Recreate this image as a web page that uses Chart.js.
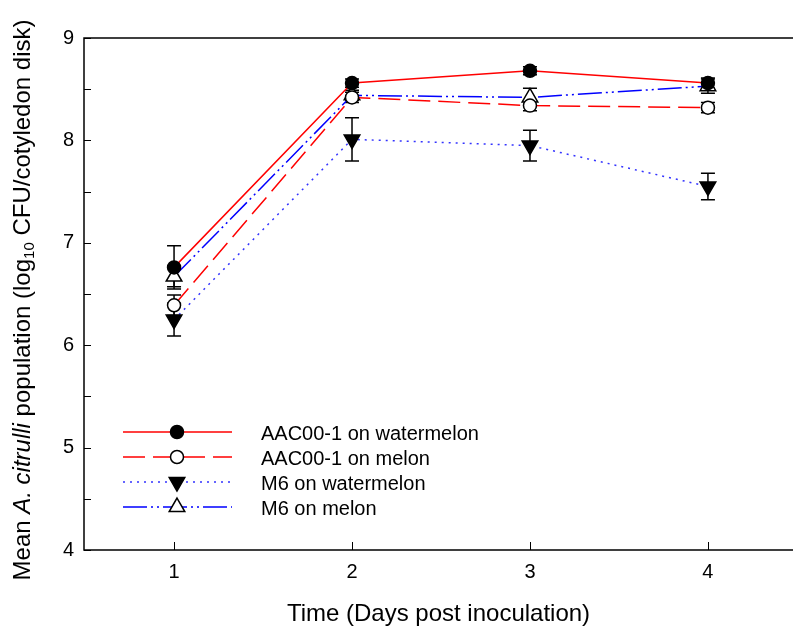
<!DOCTYPE html>
<html><head><meta charset="utf-8">
<script src="https://cdn.jsdelivr.net/npm/chart.js@4"></script>
<style>html,body{margin:0;padding:0;background:#fff}#wrap{width:793px;height:626px}</style>
</head><body><div id="wrap"><canvas id="c" width="793" height="626"></canvas></div>
<script>
const days = [1, 2, 3, 4];
const seriesNames = ["AAC00-1 on watermelon", "AAC00-1 on melon", "M6 on watermelon", "M6 on melon"];
const aacWatermelon = [6.76, 8.56, 8.68, 8.56];
const aacWatermelonErr = [0.21, 0.04, 0.04, 0.05];
const aacMelon = [6.39, 8.42, 8.34, 8.32];
const aacMelonErr = [0.10, 0.05, 0.05, 0.05];
const m6Watermelon = [6.25, 8.01, 7.95, 7.55];
const m6WatermelonErr = [0.16, 0.21, 0.15, 0.13];
const m6Melon = [6.67, 8.44, 8.42, 8.53];
const m6MelonErr = [0.10, 0.05, 0.09, 0.07];
const yTicks = [4, 5, 6, 7, 8, 9];

const FONT = "'Liberation Sans', Arial, sans-serif";

function pts(vals) { return days.map((d, i) => ({x: d, y: vals[i]})); }

const styles = [
  {color: '#ff0000', dash: [], point: 'circle', fill: '#000', r: 6.5, rot: 0},
  {color: '#ff0000', dash: [22, 8], point: 'circle', fill: '#fff', r: 6.5, rot: 0},
  {color: '#3333ff', dash: [2, 5], point: 'triangle', fill: '#000', r: 9, rot: 180},
  {color: '#0000ff', dash: [24, 4, 2, 4, 2, 4], point: 'triangle', fill: '#fff', r: 9, rot: 0}
];
const values = [aacWatermelon, aacMelon, m6Watermelon, m6Melon];
const errors = [aacWatermelonErr, aacMelonErr, m6WatermelonErr, m6MelonErr];

const datasets = values.map((v, i) => ({
  label: seriesNames[i],
  data: pts(v),
  showLine: true,
  borderColor: styles[i].color,
  borderWidth: 1.5,
  borderDash: styles[i].dash,
  pointStyle: styles[i].point,
  pointRadius: styles[i].r,
  pointRotation: styles[i].rot,
  pointBackgroundColor: styles[i].fill,
  pointBorderColor: '#000',
  pointBorderWidth: 1.5,
  tension: 0,
  fill: false
}));

function drawMarker(ctx, st, x, y) {
  ctx.save();
  ctx.fillStyle = st.fill; ctx.strokeStyle = '#000'; ctx.lineWidth = 1.5; ctx.setLineDash([]);
  ctx.beginPath();
  if (st.point === 'circle') {
    ctx.arc(x, y, st.r, 0, Math.PI * 2);
  } else {
    let rad = st.rot * Math.PI / 180;
    for (let k = 0; k < 3; k++) {
      const px = x + Math.sin(rad) * st.r, py = y - Math.cos(rad) * st.r;
      if (k === 0) ctx.moveTo(px, py); else ctx.lineTo(px, py);
      rad += 2 * Math.PI / 3;
    }
    ctx.closePath();
  }
  ctx.fill(); ctx.stroke();
  ctx.restore();
}

const errorBars = {
  id: 'errorBars',
  beforeDatasetsDraw(chart) {
    const {ctx, scales: {x, y}} = chart;
    ctx.save();
    ctx.strokeStyle = '#000'; ctx.lineWidth = 1.5; ctx.setLineDash([]);
    values.forEach((v, i) => {
      v.forEach((val, j) => {
        const px = x.getPixelForValue(days[j]);
        const top = y.getPixelForValue(val + errors[i][j]);
        const bot = y.getPixelForValue(val - errors[i][j]);
        ctx.beginPath();
        ctx.moveTo(px, top); ctx.lineTo(px, bot);
        ctx.moveTo(px - 7, top); ctx.lineTo(px + 7, top);
        ctx.moveTo(px - 7, bot); ctx.lineTo(px + 7, bot);
        ctx.stroke();
      });
    });
    ctx.restore();
  }
};

const frame = {
  id: 'frame',
  afterDraw(chart) {
    const {ctx, chartArea: a, scales: {x, y}} = chart;
    ctx.save();
    ctx.strokeStyle = '#000'; ctx.lineWidth = 1.5; ctx.setLineDash([]);
    ctx.beginPath();
    ctx.moveTo(chart.width, a.top); ctx.lineTo(a.left, a.top);
    ctx.lineTo(a.left, a.bottom); ctx.lineTo(chart.width, a.bottom);
    ctx.stroke();
    ctx.lineWidth = 1;
    ctx.beginPath();
    for (let v = 4; v <= 9.001; v += 0.5) {
      const py = Math.round(y.getPixelForValue(v)) + 0.5;
      ctx.moveTo(a.left, py); ctx.lineTo(a.left + 7, py);
    }
    days.forEach(d => {
      const px = Math.round(x.getPixelForValue(d)) + 0.5;
      ctx.moveTo(px, a.bottom); ctx.lineTo(px, a.bottom - 8);
    });
    ctx.stroke();

    // legend
    const rows = [433, 458, 483, 508];
    ctx.font = '20px ' + FONT;
    ctx.textBaseline = 'middle'; ctx.textAlign = 'left'; ctx.fillStyle = '#000';
    styles.forEach((st, i) => {
      ctx.save();
      ctx.strokeStyle = st.color; ctx.lineWidth = 1.5; ctx.setLineDash(st.dash);
      ctx.beginPath(); ctx.moveTo(123, rows[i] - 1); ctx.lineTo(232, rows[i] - 1); ctx.stroke();
      ctx.restore();
      drawMarker(ctx, st, 177, rows[i] - 1);
      ctx.fillText(seriesNames[i], 261, rows[i] + 1);
    });

    // y title with italic and subscript
    const parts = [
      {t: 'Mean ', f: '24px ' + FONT, dy: 0},
      {t: 'A. citrulli', f: 'italic 24px ' + FONT, dy: 0},
      {t: ' population (log', f: '24px ' + FONT, dy: 0},
      {t: '10', f: '15px ' + FONT, dy: 7},
      {t: ' CFU/cotyledon disk)', f: '24px ' + FONT, dy: 0}
    ];
    let total = 0;
    parts.forEach(p => { ctx.font = p.f; p.w = ctx.measureText(p.t).width; total += p.w; });
    ctx.translate(23, 300);
    ctx.rotate(-Math.PI / 2);
    let cx = -total / 2;
    parts.forEach(p => { ctx.font = p.f; ctx.fillText(p.t, cx, p.dy); cx += p.w; });
    ctx.restore();
  }
};

new Chart(document.getElementById('c'), {
  type: 'scatter',
  data: {datasets},
  options: {
    responsive: false,
    animation: false,
    devicePixelRatio: 1,
    layout: {autoPadding: false, padding: {top: 38, left: 0, right: 0, bottom: 0}},
    plugins: {legend: {display: false}, tooltip: {enabled: false}},
    scales: {
      x: {
        type: 'linear', min: 0.494, max: 4.478,
        afterBuildTicks: s => { s.ticks = days.map(v => ({value: v})); },
        afterFit: s => { s.height = 76; },
        grid: {display: false},
        border: {display: false},
        ticks: {color: '#000', font: {family: FONT, size: 20}, padding: 2, maxRotation: 0},
        title: {display: true, text: 'Time (Days post inoculation)', color: '#000', font: {family: FONT, size: 24}, padding: {top: 0, bottom: -3}}
      },
      y: {
        min: 4, max: 9,
        afterBuildTicks: s => { s.ticks = yTicks.map(v => ({value: v})); },
        afterFit: s => { s.width = 84; },
        grid: {display: false},
        border: {display: false},
        ticks: {color: '#000', font: {family: FONT, size: 20}, padding: 2}
      }
    }
  },
  plugins: [errorBars, frame]
});
</script></body></html>
